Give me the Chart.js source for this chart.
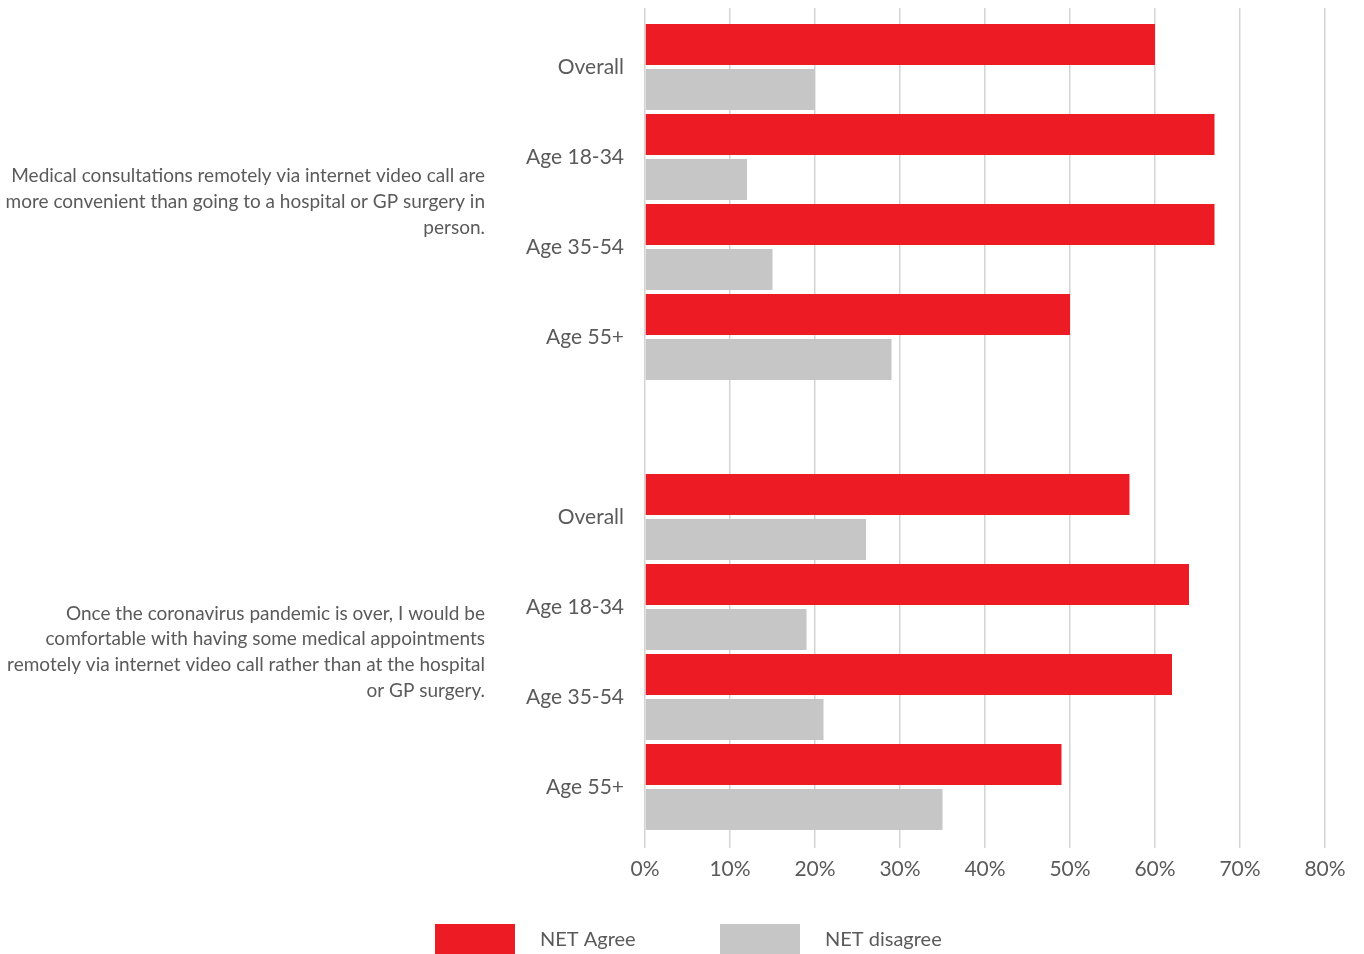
<!DOCTYPE html>
<html>
<head>
<meta charset="utf-8">
<script src="https://cdn.jsdelivr.net/npm/chart.js@4/dist/chart.umd.min.js"></script>
<style>
html,body{margin:0;padding:0;background:#fff;}
#wrap{width:1364px;height:954px;position:relative;}
</style>
</head>
<body>
<div id="wrap"><canvas id="c" width="1364" height="954"></canvas></div>
<script>
const categories = ['Overall','Age 18-34','Age 35-54','Age 55+','','Overall','Age 18-34','Age 35-54','Age 55+'];
const netAgree    = [60, 67, 67, 50, null, 57, 64, 62, 49];
const netDisagree = [20, 12, 15, 29, null, 26, 19, 21, 35];
const xTicks = [0,10,20,30,40,50,60,70,80];
const seriesNames = ['NET Agree','NET disagree'];
const groupTitles = [
  ['Medical consultations remotely via internet video call are','more convenient than going to a hospital or GP surgery in','person.'],
  ['Once the coronavirus pandemic is over, I would be','comfortable with having some medical appointments','remotely via internet video call rather than at the hospital','or GP surgery.']
];
const groupRanges = [[0,3],[5,8]];

const FONT = 'Lato';
const TXT = '#5a5a5a';
const RED = '#ED1C24';
const GREY = '#C6C6C6';

const toPoints = arr => arr.map((v,i)=> v===null ? null : ({x:v, y:i})).filter(p=>p!==null);

const extras = {
  id:'extras',
  afterDraw(chart){
    const ctx = chart.ctx, y = chart.scales.y;
    ctx.save();
    ctx.fillStyle = TXT;
    ctx.font = '19px ' + FONT;
    ctx.textAlign = 'right';
    ctx.textBaseline = 'middle';
    const lh = 25.7;
    groupTitles.forEach((lines, g)=>{
      const r = groupRanges[g];
      const cy = (y.getPixelForValue(r[0]) + y.getPixelForValue(r[1]))/2;
      const y0 = cy - (lines.length-1)*lh/2;
      lines.forEach((t,i)=> ctx.fillText(t, 485, y0 + i*lh));
    });
    // legend
    const items = chart.data.datasets.map(d=>({label:d.label, color:d.backgroundColor}));
    const lx = [435, 720];
    ctx.textAlign = 'left';
    ctx.font = '20px ' + FONT;
    items.forEach((it,i)=>{
      ctx.fillStyle = it.color;
      ctx.fillRect(lx[i], 924, 80, 30);
      ctx.fillStyle = TXT;
      ctx.fillText(it.label, lx[i]+105, 940);
    });
    ctx.restore();
  }
};

new Chart(document.getElementById('c'), {
  type:'bar',
  data:{
    datasets:[
      {label:seriesNames[0], data:toPoints(netAgree), backgroundColor:RED, categoryPercentage:1.0, barPercentage:0.91},
      {label:seriesNames[1], data:toPoints(netDisagree), backgroundColor:GREY, categoryPercentage:1.0, barPercentage:0.91}
    ]
  },
  options:{
    indexAxis:'y',
    responsive:false,
    animation:false,
    layout:{padding:{top:8,bottom:0,right:39,left:0}},
    plugins:{legend:{display:false}, tooltip:{enabled:false}},
    scales:{
      x:{
        type:'linear', min:0, max:80,
        afterBuildTicks(s){ s.ticks = xTicks.map(v=>({value:v})); },
        afterFit(s){ s.height = 106; },
        grid:{color:'#d4d4d4', lineWidth:1.5, drawTicks:false},
        border:{display:false},
        ticks:{padding:9, color:TXT, font:{family:FONT, size:21}, callback:v=>v+'%'}
      },
      y:{
        type:'linear', reverse:true, min:-0.6556, max:8.678, offset:false,
        afterBuildTicks(s){ s.ticks = categories.map((c,i)=>({value:i})); },
        afterFit(s){ s.width = 645; s.paddingTop = 0; s.paddingBottom = 0; },
        grid:{display:false, drawTicks:false, offset:false},
        border:{display:false},
        ticks:{padding:21, color:TXT, font:{family:FONT, size:21}, callback:(v)=>categories[v] ?? ''}
      }
    }
  },
  plugins:[extras]
});
</script>
</body>
</html>
